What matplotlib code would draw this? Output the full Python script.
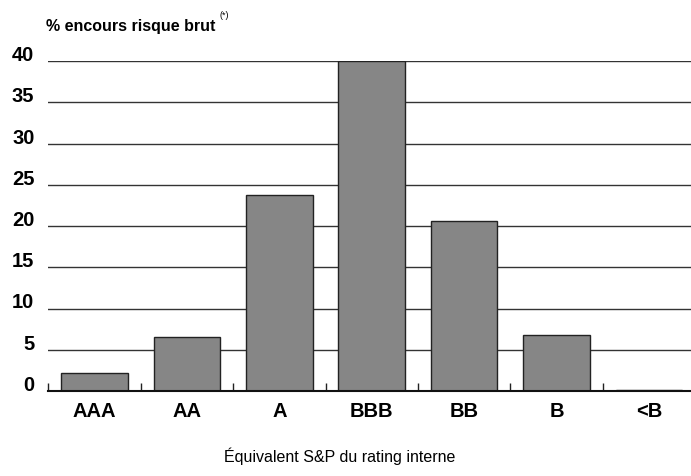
import matplotlib
matplotlib.use("Agg")
import matplotlib.pyplot as plt
import numpy as np

categories = ["AAA", "AA", "A", "BBB", "BB", "B", "<B"]
values = [2.2, 6.5, 23.8, 40.0, 20.6, 6.75, 0.15]
yticks = [0, 5, 10, 15, 20, 25, 30, 35, 40]

plt.rcParams['font.family'] = ['Liberation Sans', 'DejaVu Sans']

fig = plt.figure(figsize=(6.91, 4.76), dpi=100)
ax = fig.add_axes([48.3/691, 1 - 391/476, (691 - 48.3)/691, (391 - 61)/476])

x = np.arange(len(categories))
ax.bar(x, values, width=0.72, color='#868686', edgecolor='#222222', linewidth=1.0, zorder=3)

ax.set_ylim(0, 40)
ax.set_xlim(-0.5, -0.5 + (691 - 48.3) / 92.4)

for t in yticks[1:]:
    ax.axhline(t, color='#333333', linewidth=1.0, zorder=1)

ax.set_yticks(yticks)
ax.set_yticklabels([str(t) for t in yticks], fontsize=14.5, fontweight='bold', va='baseline')
ax.tick_params(axis='y', length=0, pad=10)

ax.set_xticks(x)
ax.set_xticklabels(categories, fontsize=14.5, fontweight='bold')
ax.tick_params(axis='x', which='major', length=0, pad=8)
ax.set_xticks(np.arange(-0.5, len(categories) - 0.5, 1.0), minor=True)
ax.tick_params(axis='x', which='minor', direction='in', length=5.8, width=1.0, color='#222222')

for s in ['top', 'right', 'left']:
    ax.spines[s].set_visible(False)
ax.spines['bottom'].set_linewidth(1.5)
ax.spines['bottom'].set_color('#111111')
ax.spines['bottom'].set_zorder(4)

fig.text(46/691, 1 - 26/476, "% encours risque brut", fontsize=11.5, fontweight='bold',
         ha='left', va='center')
fig.text(219/691, 1 - 15/476, "(*)", fontsize=6.5, ha='left', va='center')

fig.text(340/691, 1 - 456/476, "Équivalent S&P du rating interne", fontsize=11.5,
         ha='center', va='center')

fig.savefig("out.png", dpi=100)
